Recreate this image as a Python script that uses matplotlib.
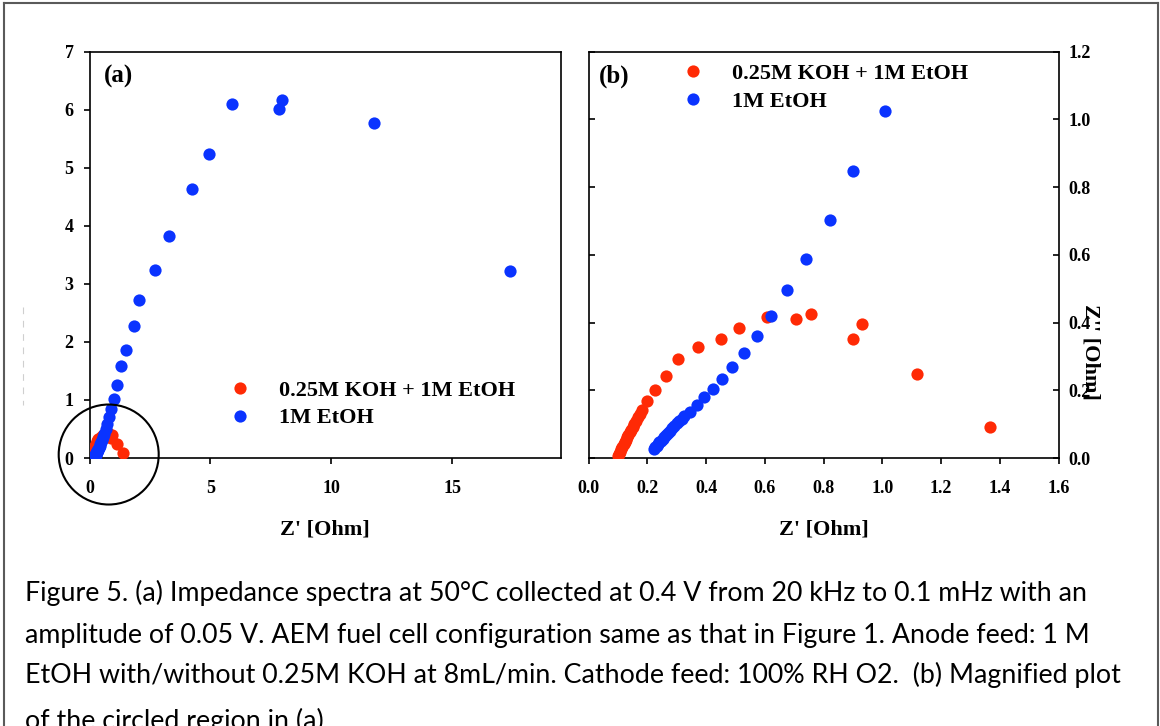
import matplotlib
matplotlib.use('Agg')
import matplotlib.pyplot as plt
from matplotlib.patches import Ellipse
from matplotlib.lines import Line2D
from matplotlib.ticker import FormatStrFormatter

# ---------------- data ----------------
koh_x = [0.099, 0.103, 0.107, 0.111, 0.115, 0.119, 0.123, 0.127, 0.131, 0.135,
         0.140, 0.145, 0.150, 0.155, 0.161, 0.168, 0.175, 0.182, 0.199, 0.227,
         0.264, 0.304, 0.371, 0.452, 0.513, 0.607, 0.707, 0.758, 0.930, 0.900,
         1.118, 1.367]
koh_y = [0.006, 0.012, 0.019, 0.026, 0.033, 0.040, 0.047, 0.054, 0.061, 0.068,
         0.076, 0.084, 0.092, 0.100, 0.109, 0.120, 0.130, 0.141, 0.167, 0.201,
         0.241, 0.292, 0.328, 0.351, 0.385, 0.416, 0.411, 0.424, 0.397, 0.350,
         0.247, 0.0925]

etoh_x = [0.223, 0.227, 0.231, 0.236, 0.241, 0.246, 0.252, 0.258, 0.264, 0.270,
          0.277, 0.284, 0.292, 0.300, 0.309, 0.317, 0.326, 0.345, 0.369, 0.393,
          0.422, 0.453, 0.489, 0.529, 0.572, 0.619, 0.676, 0.741, 0.823, 0.900,
          1.010, 1.13, 1.30, 1.52, 1.84, 2.03, 2.71, 3.27, 4.25, 4.95,
          5.90, 7.83, 7.95, 11.76, 17.41]
etoh_y = [0.028, 0.032, 0.036, 0.041, 0.046, 0.051, 0.057, 0.063, 0.069, 0.075,
          0.081, 0.088, 0.095, 0.102, 0.109, 0.116, 0.123, 0.137, 0.158, 0.180,
          0.205, 0.234, 0.268, 0.310, 0.359, 0.420, 0.495, 0.587, 0.703, 0.847,
          1.025, 1.26, 1.59, 1.86, 2.27, 2.72, 3.24, 3.82, 4.63, 5.23,
          6.10, 6.01, 6.17, 5.77, 3.23]

series_labels = ['0.25M KOH + 1M EtOH', '1M EtOH']
panel_labels = ['(a)', '(b)']
xlabel = "Z' [Ohm]"
ylabel_b = "Z'' [Ohm]"
xticks_a = [0, 5, 10, 15]
yticks_a = [0, 1, 2, 3, 4, 5, 6, 7]
xticks_b = [0.0, 0.2, 0.4, 0.6, 0.8, 1.0, 1.2, 1.4, 1.6]
yticks_b = [0.0, 0.2, 0.4, 0.6, 0.8, 1.0, 1.2]
caption_lines = [
    "Figure 5. (a) Impedance spectra at 50\u00b0C collected at 0.4 V from 20 kHz to 0.1 mHz with an",
    "amplitude of 0.05 V. AEM fuel cell configuration same as that in Figure 1. Anode feed: 1 M",
    "EtOH with/without 0.25M KOH at 8mL/min. Cathode feed: 100% RH O2.  (b) Magnified plot",
    "of the circled region in (a).",
]

# ---------------- styling ----------------
plt.rcParams['font.family'] = ['Liberation Serif', 'DejaVu Serif']
plt.rcParams['font.weight'] = 'bold'
RED = '#FF2A05'
BLUE = '#0A33FF'
MS = 8.8
W, H = 1160, 726

fig = plt.figure(figsize=(W / 100, H / 100), dpi=100)


def px_axes(l, t, r, b):
    return fig.add_axes([l / W, 1 - b / H, (r - l) / W, (b - t) / H])


axA = px_axes(89.5, 51.7, 561, 458)
axB = px_axes(588.7, 51.7, 1058.7, 458)

for ax in (axA, axB):
    ax.plot(koh_x, koh_y, 'o', color=RED, ms=MS, mec='none', label=series_labels[0], zorder=3)
    ax.plot(etoh_x, etoh_y, 'o', color=BLUE, ms=MS, mec='none', label=series_labels[1], zorder=4)
    for s in ax.spines.values():
        s.set_linewidth(1.2)
    ax.set_xlabel(xlabel, fontsize=16, fontweight='bold')
    ax.xaxis.set_label_coords(0.5, -0.175)
    ax.xaxis.label.set_va('center')

# panel (a)
axA.set_xlim(0, 19.5)
axA.set_ylim(0, 7)
axA.set_xticks(xticks_a)
axA.set_yticks(yticks_a)
axA.tick_params(axis='both', direction='out', length=4.5, width=1.2, labelsize=13)
axA.tick_params(axis='x', pad=11)
axA.tick_params(axis='y', pad=7)
axA.text(0.031, 0.940, panel_labels[0], transform=axA.transAxes, fontsize=18,
         fontweight='bold', va='center', ha='left')
axA.legend(loc='upper left', bbox_to_anchor=(0.284, 0.192), frameon=False,
           fontsize=16, handlelength=1.5, handletextpad=1.0, labelspacing=0.33,
           borderpad=0, borderaxespad=0, numpoints=1)

# circle marking the magnified region (radius ~50 px)
sx = 471.5 / 19.5
sy = 406.3 / 7
axA.add_patch(Ellipse((0.794, 0.06), 2 * 50 / sx, 2 * 50 / sy, fill=False,
                      edgecolor='black', lw=1.5, clip_on=False, zorder=5))

# panel (b)
axB.set_xlim(0, 1.6)
axB.set_ylim(0, 1.2)
axB.set_xticks(xticks_b)
axB.set_yticks(yticks_b)
axB.xaxis.set_major_formatter(FormatStrFormatter('%.1f'))
axB.yaxis.set_major_formatter(FormatStrFormatter('%.1f'))
axB.tick_params(axis='x', direction='out', length=4.5, width=1.2, labelsize=13, pad=11)
axB.tick_params(axis='y', direction='in', length=4.5, width=1.2, labelsize=13, pad=7,
                left=True, right=True, labelleft=False, labelright=True)
axB.text(0.022, 0.940, panel_labels[1], transform=axB.transAxes, fontsize=18,
         fontweight='bold', va='center', ha='left')
axB.legend(loc='upper left', bbox_to_anchor=(0.186, 0.971), frameon=False,
           fontsize=16, handlelength=1.5, handletextpad=1.0, labelspacing=0.33,
           borderpad=0, borderaxespad=0, numpoints=1)
axB.yaxis.set_label_position('right')
axB.set_ylabel(ylabel_b, fontsize=16, fontweight='bold', rotation=270)
axB.yaxis.set_label_coords(1.0666, 0.262)
axB.yaxis.label.set_va('center')
axB.yaxis.label.set_ha('center')

# ---------------- caption ----------------
cap_family = ['Lato', 'DejaVu Sans']
baselines = [601.5, 642.5, 683.5, 729.0]
renderer = fig.canvas.get_renderer()
probe = fig.text(0, 0, caption_lines[0], fontsize=19, family=cap_family, fontweight='normal')
wpx = probe.get_window_extent(renderer).width
probe.remove()
cap_size = 19 * 1059 / wpx
for line, bl in zip(caption_lines, baselines):
    fig.text(25 / W, 1 - bl / H, line, fontsize=cap_size, family=cap_family,
             fontweight='normal', ha='left', va='baseline', color='black')

# ---------------- page frame and faint remnant ----------------
gray = '#5a5a5a'
fig.add_artist(Line2D([4 / W, 4 / W], [0, 1 - 2.5 / H], color=gray, lw=1.5, transform=fig.transFigure))
fig.add_artist(Line2D([4 / W, 1157.5 / W], [1 - 2.5 / H, 1 - 2.5 / H], color=gray, lw=1.5, transform=fig.transFigure))
fig.add_artist(Line2D([1157.5 / W, 1157.5 / W], [0, 1 - 2.5 / H], color=gray, lw=1.5, transform=fig.transFigure))
fig.add_artist(Line2D([23 / W, 23 / W], [1 - 307 / H, 1 - 405 / H], color='#cfcfcf', lw=0.8,
                      dashes=(6, 6), transform=fig.transFigure))

fig.savefig('out.png', dpi=100)
